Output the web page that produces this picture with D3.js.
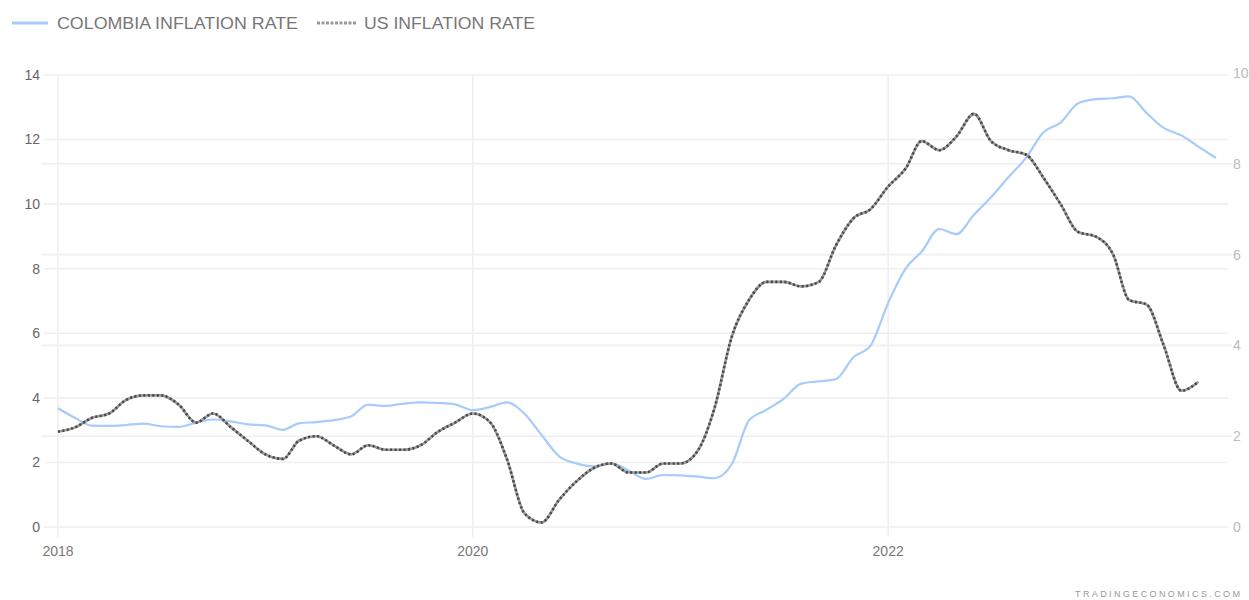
<!DOCTYPE html>
<html>
<head>
<meta charset="utf-8">
<script src="https://cdn.jsdelivr.net/npm/d3@7"></script>
<style>
  html, body { margin: 0; padding: 0; background: #fff; }
  svg { display: block; font-family: "Liberation Sans", Arial, sans-serif; }
  .grid line { stroke: #efefef; stroke-width: 1.6; }
  .tick-left { fill: #666; font-size: 14px; }
  .tick-right { fill: #bbb; font-size: 14px; }
  .tick-x { fill: #777; font-size: 14px; }
  .legend text { fill: #777; font-size: 17px; }
</style>
</head>
<body>
<svg id="chart" width="1249" height="600"></svg>
<script>
// monthly YoY inflation, Jan 2018 onward
const startMonth = new Date(2018, 0, 1)
const colombia = [
  3.68, 3.37, 3.14, 3.13, 3.16, 3.20, 3.12, 3.10, 3.23, 3.33, 3.27, 3.18,
  3.15, 3.01, 3.21, 3.25, 3.31, 3.43, 3.79, 3.75, 3.82, 3.86, 3.84, 3.80,
  3.62, 3.72, 3.86, 3.51, 2.85, 2.19, 1.97, 1.88, 1.97, 1.75, 1.49, 1.61,
  1.60, 1.56, 1.51, 1.95, 3.30, 3.63, 3.97, 4.44, 4.51, 4.58, 5.26, 5.62,
  6.94, 8.01, 8.53, 9.23, 9.07, 9.67, 10.21, 10.84, 11.44, 12.22, 12.53, 13.12,
  13.25, 13.28, 13.34, 12.82, 12.36, 12.13, 11.78, 11.43
]
const us = [
  2.1, 2.2, 2.4, 2.5, 2.8, 2.9, 2.9, 2.7, 2.3, 2.5, 2.2, 1.9,
  1.6, 1.5, 1.9, 2.0, 1.8, 1.6, 1.8, 1.7, 1.7, 1.8, 2.1, 2.3,
  2.5, 2.3, 1.5, 0.3, 0.1, 0.6, 1.0, 1.3, 1.4, 1.2, 1.2, 1.4,
  1.4, 1.7, 2.6, 4.2, 5.0, 5.4, 5.4, 5.3, 5.4, 6.2, 6.8, 7.0,
  7.5, 7.9, 8.5, 8.3, 8.6, 9.1, 8.5, 8.3, 8.2, 7.7, 7.1, 6.5,
  6.4, 6.0, 5.0, 4.9, 4.0, 3.0, 3.2
]
const leftTicks = [0, 2, 4, 6, 8, 10, 12, 14]
const rightTicks = [0, 2, 4, 6, 8, 10]
const yearTicks = [2018, 2020, 2022]
const seriesNames = ['COLOMBIA INFLATION RATE', 'US INFLATION RATE']

const svg = d3.select('#chart')
const x = d3.scaleTime()
  .domain([startMonth, d3.timeMonth.offset(startMonth, colombia.length - 1)])
  .range([58, 1216])
const yL = d3.scaleLinear().domain([0, 14]).range([527, 75])
const yR = d3.scaleLinear().domain([0, 10]).range([527, 73])

const toPts = arr => arr.map((v, i) => ({ date: d3.timeMonth.offset(startMonth, i), v }))

// gridlines
const grid = svg.append('g').attr('class', 'grid')
grid.selectAll('line.gl').data(leftTicks).join('line').attr('class', 'gl')
  .attr('x1', 44).attr('x2', 1228).attr('y1', d => yL(d)).attr('y2', d => yL(d))
grid.selectAll('line.gr').data(rightTicks.filter(d => d > 0 && d < 10)).join('line').attr('class', 'gr')
  .attr('x1', 41).attr('x2', 1232).attr('y1', d => yR(d)).attr('y2', d => yR(d))
grid.selectAll('line.gv').data(yearTicks).join('line').attr('class', 'gv')
  .attr('x1', d => x(new Date(d, 0, 1))).attr('x2', d => x(new Date(d, 0, 1)))
  .attr('y1', 75).attr('y2', 537)

// axis labels
svg.append('g').selectAll('text').data(leftTicks).join('text')
  .attr('class', 'tick-left').attr('x', 40).attr('y', d => yL(d)).attr('dy', '0.35em')
  .attr('text-anchor', 'end').text(d => d)
svg.append('g').selectAll('text').data(rightTicks).join('text')
  .attr('class', 'tick-right').attr('x', 1233).attr('y', d => yR(d)).attr('dy', '0.35em')
  .text(d => d)
svg.append('g').selectAll('text').data(yearTicks).join('text')
  .attr('class', 'tick-x').attr('x', d => x(new Date(d, 0, 1))).attr('y', 556)
  .attr('text-anchor', 'middle').text(d => d)

// lines
const lineL = d3.line().x(d => x(d.date)).y(d => yL(d.v)).curve(d3.curveMonotoneX)
const lineR = d3.line().x(d => x(d.date)).y(d => yR(d.v)).curve(d3.curveMonotoneX)
svg.append('path').datum(toPts(colombia)).attr('d', lineL)
  .attr('fill', 'none').attr('stroke', '#a7cbfb').attr('stroke-width', 2.2)
svg.append('path').datum(toPts(us)).attr('d', lineR)
  .attr('fill', 'none').attr('stroke', '#9a9a9a').attr('stroke-width', 2.6)
svg.append('path').datum(toPts(us)).attr('d', lineR)
  .attr('fill', 'none').attr('stroke', '#474747').attr('stroke-width', 2.6)
  .attr('stroke-dasharray', '2,2.5')

// legend
const lg = svg.append('g').attr('class', 'legend')
lg.append('line').attr('x1', 12).attr('x2', 48).attr('y1', 23).attr('y2', 23)
  .attr('stroke', '#a7cbfb').attr('stroke-width', 3)
lg.append('text').attr('x', 57).attr('y', 29)
  .attr('textLength', 241).attr('lengthAdjust', 'spacingAndGlyphs').text(seriesNames[0])
lg.append('line').attr('x1', 317).attr('x2', 356).attr('y1', 23).attr('y2', 23)
  .attr('stroke', '#999').attr('stroke-width', 3).attr('stroke-dasharray', '3,1.5')
lg.append('text').attr('x', 364).attr('y', 29)
  .attr('textLength', 171).attr('lengthAdjust', 'spacingAndGlyphs').text(seriesNames[1])

// watermark
svg.append('text').attr('x', 1240).attr('y', 597).attr('text-anchor', 'end')
  .attr('fill', '#999').attr('font-size', 9).attr('textLength', 165).text('TRADINGECONOMICS.COM')
</script>
</body>
</html>
